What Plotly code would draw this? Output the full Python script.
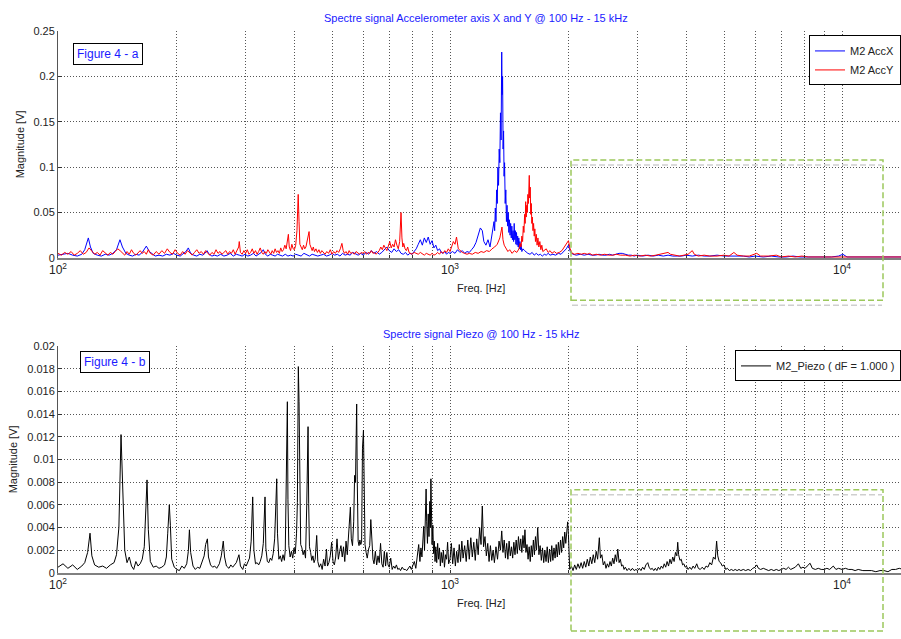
import plotly.graph_objects as go

# ---------------- data ----------------
# Top panel : accelerometer X (blue) — frequency [Hz] / magnitude [mV]
accx_f = [100,103,106,109,112,115,117,119.5,121,123,126,129,132,135,138,141,143.9,146,149,152,155,158,161,164,168,171,174,177,181,185,189,193,197,201,205,209,212,215,218,222,226,230,234,237,240,243,247,251,255,260,265,270,275,280,285,290,295,300,305,310,315,320,325,330,334,338,343,348,353,358,363,368,374,380,386,392,398,404,410,417,424,431,438,445,452,460,468,476,484,492,500,508,516,524,532,540,548,556,565,574,583,592,601,610,620,630,640,650,660,670,680,690,700,710,720,730,740,750,760,770,780,790,800,810,820,830,840,850,860,870,880,890,900,910,920,930,940,950,960,970,980,990,1000,1015,1030,1045,1060,1075,1090,1105,1120,1135,1150,1165,1180,1195,1209,1220,1235,1250,1265,1280,
          1295,1300,1305,1310,1315,1320,1325,1330,1335,1340,1345,1350,1355,1358,1362,1366,1370,1374,1378,1383,1388,1393,1398,1403,1408,1413,1418,1423,1428,1433,1438,1443,1448,1453,1458,1463,1468,1473,1478,1483,1488,1493,1498,1503,1508,1513,1518,1525,1535,
          1550,1565,1580,1600,1620,1640,1660,1680,1700,1720,1740,1760,1780,1800,1830,1860,1890,1920,1950,1980,2005,2030,2060,2100,2150,2200,2250,2300,2350,2400,2450,2500,2550,2600,2650,2700,2750,2800,2850,2900,2950,3000,3100,3200,3300,3400,3500,3600,3700,3800,3900,4000,4150,4300,4450,4600,4800,5000,5200,5400,5600,5800,6000,6300,6600,6900,7200,7500,7800,8100,8400,8700,9000,9400,9800,10050,10300,10700,11200,11700,12200,12800,13400,14000,15000]
accx_mv = [3,4,5,3,2,4,9,22,12,5,3,2,4,3,5,9,20,12,5,3,2,4,3,6,13,7,4,2,3,2,4,3,5,3,2,5,7,11,5,3,2,4,3,5,8,4,2,3,2,4,2,3,5,2,4,3,2,4,2,3,5,2,4,6,9,4,2,4,3,2,4,3,2,4,2,3,2,4,3,2,5,3,2,4,3,2,3,4,2,3,5,3,4,2,5,3,4,3,6,4,3,5,3,6,4,8,5,7,4,6,9,12,8,6,10,7,9,5,4,6,3,5,4,7,10,15,20,14,22,17,23,15,19,11,14,8,10,6,5,7,4,6,5,7,5,9,6,8,5,7,6,9,12,17,24,33,30,18,14,20,12,25,
           40,30,55,40,75,60,100,80,120,105,160,130,227,180,200,120,140,90,105,60,75,40,58,35,50,28,42,25,38,22,35,20,30,18,38,20,30,15,28,14,24,12,22,10,18,9,15,7,10,
           8,6,5,4,6,3,5,3,4,2,4,3,5,3,4,3,5,4,7,10,14,6,4,3,4,3,4,3,3,4,3,3,4,3,4,5,5,4,3,3,2,3,2,3,2,3,2,3,2,2,2,3,2,3,2,2,3,2,2,2,2,1,2,1,2,1,1,2,1,1,1,1,1,1,2,4,1,1,1,1,1,1,1,1,1]

# Top panel : accelerometer Y (red)
accy_f = [100,102,104,106,108,110,112,114,116,118,120,122,124,126,128,130,132,134,136,138,140,142,144,146,148,150,152,154,156,158,160,162,164,166,168,170,172,175,178,181,184,187,190,193,196,199,202,205,208,211,214,217,220,223,226,229,232,235,238,241,244,247,250,253,256,259,262,265,268,271,274,277,280,283,286,289,290,292,295,298,301,304,307,310,313,316,319,322,325,328,331,334,337,340,343,346,349,352,355,358,361,364,367,370,373,376,379,382,385,387,389,392,395,398,401,404,407,410,412,414,417,420,423,426,429,432,435,437,439,442,445,448,451,455,459,463,467,471,475,480,485,490,495,500,505,510,515,520,525,530,534,538,543,548,553,558,564,570,576,582,588,594,600,606,612,618,624,630,636,642,648,654,660,666,672,678,684,690,696,702,708,714,720,726,732,738,744,750,754,758,762,768,774,780,786,792,800,810,820,830,840,850,860,870,880,890,900,910,920,930,940,950,960,970,980,990,1000,1010,1020,1030,1039,1050,1060,1075,1090,1105,1120,1140,1160,1180,1200,1220,1240,1260,1280,1300,1320,1340,1357,1365,1375,1390,1405,1420,1440,1460,1480,
          1500,1510,1518,1525,1532,1538,1544,1550,1555,1560,1565,1570,1575,1580,1585,1590,1593,1597,1602,1607,1612,1617,1622,1628,1634,1640,1646,1652,1660,1668,1676,1685,1695,1705,1715,1725,1740,
          1760,1780,1800,1820,1845,1870,1900,1930,1960,1985,2005,2025,2050,2080,2120,2160,2200,2240,2270,2310,2360,2420,2480,2540,2600,2660,2720,2800,2880,2960,3050,3150,3250,3350,3450,3550,3600,3650,3750,3850,3950,4050,4150,4200,4300,4450,4600,4800,5000,5150,5300,5400,5600,5800,6060,6200,6500,6800,7000,7300,7600,7900,8200,8600,9000,9500,10000,10500,11000,12000,13000,14000,15000]
accy_mv = [5,3,6,4,7,3,5,8,4,6,11,7,4,6,3,8,5,3,6,4,7,10,8,5,3,7,4,9,5,3,6,8,5,7,4,9,5,3,7,4,8,5,10,6,4,9,5,3,7,4,8,5,3,6,9,5,7,4,8,5,3,6,4,9,5,7,4,6,8,4,7,5,9,4,8,12,18,6,4,8,5,9,4,6,10,5,8,4,7,11,6,4,7,5,9,6,4,8,5,10,6,8,5,11,7,9,14,10,20,26,12,8,15,10,9,14,30,70,40,15,12,9,14,10,12,18,22,29,15,10,8,12,7,10,6,9,5,8,6,4,7,5,9,4,7,5,8,6,10,16,8,5,7,4,8,5,6,4,7,5,4,6,5,7,4,6,5,8,5,6,4,6,8,12,9,14,10,8,13,18,11,15,12,20,14,10,18,50,22,12,16,10,8,12,6,5,4,6,5,4,6,4,3,5,4,3,5,3,4,6,4,7,5,8,6,10,7,12,18,15,23,10,8,6,5,4,5,4,6,5,7,6,8,7,10,12,15,22,34,20,14,10,7,9,5,8,6,
           10,16,12,24,18,35,28,48,38,62,45,58,50,70,60,82,91,66,78,48,60,38,45,30,38,24,32,18,26,14,22,12,18,9,14,7,8,
           10,6,8,5,7,5,6,8,12,15,19,10,5,4,5,4,5,4,5,3,4,3,4,3,3,4,3,3,2,3,2,3,2,3,4,5,6,4,3,2,3,4,8,4,2,3,2,2,3,2,6,3,2,2,5,2,2,3,1,2,1,2,1,1,1,1,1,1,1,1,1,1,1]

# Bottom panel : piezo (black)
piezo_f = [100,103,106,109,112,115,117,119,120.7,122,124,127,130,133,136,139,141,143,144.8,146,148,150,152,154,156,158,160,162,164,166,168.7,170,172,175,178,181,184,187,189,190.5,192.3,193.5,195,198,201,204,207,210,213,215,216.4,218,221,224,227,230,233,236,238,240.5,242,245,248,251,254,258,261,264,266,269,273,276,279,282,285,289.5,292,296,299,302,305,308,311,313.8,316,319,322,325,328,331,334,337.4,339,342,345,348,351,354,357,359,361.4,363,366,369,372,375,378,380,382,384.7,386,388,391,394,397,400,403,406,408,410.3,412,414,416,419,422,425,428,431,434.4,436,438,441,444,447,450,453,457,460,464,468,472,476,480,484,487,491,495,499,503,507,511,515,519,523,527,531,535,539,543,547,551,554,557,560,564,568,571,574,576,578,580,583,586,589,592,595,598,601.5,604,607,611,615,620,624,628,632,636,640,645,650,655,660,665,670,675,680,685,690,695,700,706,712,718,724,730,736,742,748,755,762,769,776,783,790,797,804,811,818,825,832,838,843,848,853,857,861,865,869,872,876,880,884,888,891,894,897,900,904,908,912,916,920,925,930,935,940,945,950,956,962,968,974,980,986,992,1000,1008,1016,1024,1032,1040,1048,1056,1064,1072,1080,1090,1100,1110,1120,1130,1140,1150,1160,1170,1180,1190,1200,1209,1218,1228,1238,1248,1258,1268,1278,1288,1298,1310,1322,1334,1345,1355,1365,1375,1385,1395,1405,1415,1425,1435,1445,1455,1465,1475,1485,1495,1505,1515,1525,1535,1545,1553,1562,1572,1582,1592,1602,1612,1622,1632,1642,1652,1662,1674,1686,1698,1710,1722,1734,1746,1758,1770,1782,1794,1806,1818,1830,1842,1854,1866,1878,1890,1902,1914,1926,1938,1950,1962,1974,1986,1996,2005,2012,2020,2040,2060,2080,2100,2120,2140,2160,2180,2200,2220,2240,2260,2280,2300,2320,2340,2360,2380,2404,2420,2440,2460,2480,2500,2520,2540,2560,2580,2600,2620,2640,2660,2679,2700,2720,2740,2760,2780,2800,2830,2860,2890,2920,2950,2980,3010,3040,3070,3100,3130,3160,3195,3220,3250,3280,3310,3340,3370,3400,3430,3460,3490,3520,3550,3580,3610,3640,3670,3700,3730,3760,3790,3810,3830,3860,3890,3920,3950,3980,4010,4050,4090,4130,4170,4210,4260,4300,4350,4400,4450,4500,4550,4600,4650,4700,4750,4788,4820,4860,4900,4950,5000,5050,5100,5160,5220,5280,5340,5400,5460,5520,5600,5680,5760,5840,5920,6000,6060,6120,6200,6300,6400,6500,6600,6700,6800,6900,7000,7100,7200,7300,7400,7500,7600,7740,7850,7950,8050,8150,8290,8400,8550,8700,8850,9000,9150,9300,9500,9650,9800,10000,10200,10400,10600,10800,11000,11300,11600,11900,12200,12500,12800,13100,13400,13700,14000,14300,14600,15000]
piezo_mv = [0.5,0.8,0.4,0.7,0.3,0.6,0.9,1.8,3.5,1.5,0.7,0.5,0.6,0.4,0.7,0.9,1.6,4.0,12.2,7.7,2.0,0.9,1.4,0.6,0.3,1.0,0.6,0.8,1.2,2.3,8.2,3.8,1.0,0.5,0.6,0.4,0.5,0.7,1.4,3.5,6.0,4.2,1.2,0.5,0.3,0.2,0.6,0.4,0.8,1.9,3.8,1.8,0.6,0.3,0.5,0.4,0.9,1.5,2.5,3.0,1.4,0.7,0.5,0.6,0.4,0.8,1.5,2.8,1.4,0.6,0.4,0.7,0.5,0.7,0.9,1.6,0.6,0.3,0.8,0.6,0.9,1.3,2.8,6.7,2.0,0.8,0.9,0.7,1.0,1.5,2.6,6.7,2.2,1.0,0.9,1.3,1.1,1.7,3.0,5.0,8.3,3.5,1.2,1.5,1.0,1.6,1.1,2.0,10.2,15.1,6.5,2.4,1.4,1.9,1.3,2.2,1.7,3.5,6.2,18.2,15.1,6.4,2.5,2.2,1.6,2.0,1.3,5.9,12.9,6.1,2.3,1.8,1.1,1.5,0.9,1.2,3.3,1.0,0.5,0.8,0.3,1.2,0.6,2.1,0.6,0.9,1.5,2.7,1.0,0.7,1.4,3.0,1.2,1.9,2.4,1.4,2.3,1.0,2.8,1.6,3.6,4.2,5.8,3.0,2.4,4.5,8.6,8.0,13.0,14.9,8.2,2.8,2.4,2.9,2.5,2.7,11.0,12.6,8.0,2.5,1.8,1.3,2.1,2.4,4.7,2.3,1.2,0.8,1.9,0.7,1.5,0.9,2.6,0.8,0.5,1.9,0.6,1.8,0.7,0.5,1.3,0.3,0.6,0.4,0.7,0.3,0.4,0.2,0.5,0.3,0.3,0.2,0.4,0.6,0.3,0.7,1.0,0.4,1.3,2.5,1.0,2.2,1.4,2.8,4.1,2.0,3.9,7.4,4.5,2.6,5.2,3.2,6.3,4.0,8.3,5.0,2.5,4.2,1.7,2.8,1.0,2.3,0.9,2.6,1.2,2.2,0.6,1.8,0.9,2.0,0.5,1.6,1.2,2.7,0.8,1.2,2.6,0.8,2.2,0.6,1.9,0.9,2.5,1.0,2.8,1.3,2.4,1.0,2.9,1.2,3.1,1.4,2.7,1.1,3.0,1.6,4.0,2.5,5.9,2.3,3.2,1.5,2.6,1.0,2.4,1.1,2.0,0.9,2.3,1.2,2.8,2.0,3.7,1.8,2.9,1.3,2.6,1.2,2.8,1.5,2.3,1.3,2.7,1.6,2.9,1.7,3.2,2.0,3.0,1.8,3.3,2.2,3.8,1.8,2.5,1.2,2.3,1.0,2.4,1.4,2.9,1.6,3.2,2.0,4.0,1.6,2.4,1.1,2.2,0.9,2.0,1.0,2.3,0.9,2.1,1.0,2.4,1.1,2.2,1.3,2.5,1.4,2.7,1.6,2.9,1.8,3.2,2.2,3.6,2.6,4.2,4.5,3.4,1.0,0.3,0.6,0.2,0.7,0.3,0.8,0.4,0.9,0.4,1.0,0.5,1.2,0.6,1.4,0.8,1.6,0.9,1.9,1.2,3.1,1.3,1.6,0.7,1.0,0.4,0.8,0.5,1.0,0.6,1.3,0.8,1.6,1.0,2.1,0.9,1.2,0.6,0.7,0.3,0.5,0.2,0.4,0.2,0.4,0.2,0.3,0.2,0.4,0.2,0.5,0.3,0.7,0.9,0.5,0.3,0.4,0.2,0.4,0.2,0.5,0.3,0.6,0.4,0.8,0.5,1.0,0.6,1.2,0.8,1.4,1.0,1.8,1.5,2.7,1.6,1.1,1.2,0.7,0.8,0.5,0.6,0.3,0.5,0.3,0.6,0.4,0.8,0.4,0.3,0.5,0.3,0.6,0.5,0.9,0.7,1.4,1.2,2.8,1.5,1.0,0.9,0.6,0.7,0.3,0.4,0.2,0.3,0.2,0.3,0.2,0.3,0.2,0.3,0.2,0.3,0.2,0.4,0.5,0.7,0.4,0.3,0.4,0.3,0.2,0.3,0.2,0.3,0.2,0.3,0.4,0.3,0.5,0.3,0.4,0.5,0.8,0.4,0.5,0.4,0.6,0.85,0.4,0.3,0.4,0.3,0.3,0.4,0.3,0.6,0.3,0.4,0.3,0.4,0.3,0.3,0.2,0.3,0.2,0.2,0.2,0.1,0.2,0.2,0.1,0.3,0.3,0.4,0.3,0.3,0.3]

acc_yticks = [0, 0.05, 0.1, 0.15, 0.2, 0.25]
acc_ytext = ["0", "0.05", "0.1", "0.15", "0.2", "0.25"]
pz_yticks = [0, 0.002, 0.004, 0.006, 0.008, 0.01, 0.012, 0.014, 0.016, 0.018, 0.02]
pz_ytext = ["0", "0.002", "0.004", "0.006", "0.008", "0.01", "0.012", "0.014", "0.016", "0.018", "0.02"]
x_gridvals = [100,200,300,400,500,600,700,800,900,1000,2000,3000,4000,5000,6000,7000,8000,9000,10000]
x_ticktext = ["10<sup>2</sup>","","","","","","","","","10<sup>3</sup>","","","","","","","","","10<sup>4</sup>"]

title_top = "Spectre signal Accelerometer axis X and Y @ 100 Hz - 15 kHz"
title_bot = "Spectre signal Piezo @ 100 Hz - 15 kHz"

# ---------------- figure ----------------
W, H = 901, 639
L = 58
def px(x):  # pixel -> paper x
    return (x - L) / (W - L)
def py(y):  # pixel -> paper y
    return 1 - y / H

FONT = "Liberation Sans, Arial, sans-serif"
BLUE_TXT = "#1a1aff"
TXT = "#222222"

fig = go.Figure()
fig.add_trace(go.Scatter(x=accx_f, y=[v / 1000 for v in accx_mv], mode="lines",
                         line=dict(color="#0000ff", width=1), name="M2 AccX",
                         xaxis="x", yaxis="y", legend="legend"))
fig.add_trace(go.Scatter(x=accy_f, y=[v / 1000 for v in accy_mv], mode="lines",
                         line=dict(color="#ff0000", width=1), name="M2 AccY",
                         xaxis="x", yaxis="y", legend="legend"))
fig.add_trace(go.Scatter(x=piezo_f, y=[v / 1000 for v in piezo_mv], mode="lines",
                         line=dict(color="#000000", width=1), name="M2_Piezo ( dF = 1.000 )",
                         xaxis="x2", yaxis="y2", legend="legend2"))

GRID = dict(showgrid=True, gridcolor="#555555", griddash="1px,2px", gridwidth=1)
xcommon = dict(type="log", range=[2, 2 + (W - L) / 392], tickvals=x_gridvals, ticktext=x_ticktext,
               showline=True, linecolor="#808080", linewidth=2, ticks="inside", ticklen=3,
               tickcolor="#333", tickfont=dict(family=FONT, size=12, color=TXT),
               zeroline=False, fixedrange=True, **GRID)
ycommon = dict(showline=True, linecolor="#555555", linewidth=1, ticks="inside", ticklen=4,
               tickcolor="#333", tickfont=dict(family=FONT, size=11, color=TXT),
               zeroline=False, fixedrange=True, **GRID)

fig.update_layout(
    width=W, height=H, margin=dict(l=L, r=0, t=0, b=0),
    paper_bgcolor="white", plot_bgcolor="white",
    font=dict(family=FONT, size=11, color=TXT),
    xaxis=dict(domain=[0, 1], anchor="y", **xcommon),
    yaxis=dict(domain=[py(256.7), py(25.7)], anchor="x", range=[0, 0.25],
               tickvals=acc_yticks, ticktext=acc_ytext, **ycommon),
    xaxis2=dict(domain=[0, 1], anchor="y2", **xcommon),
    yaxis2=dict(domain=[py(577.7), py(346.7)], anchor="x2", range=[0, 0.02],
                tickvals=pz_yticks, ticktext=pz_ytext, **ycommon),
    legend=dict(x=1, xanchor="right", y=py(30), yanchor="top", bgcolor="white",
                bordercolor="black", borderwidth=1, font=dict(family=FONT, size=11, color=TXT),
                tracegroupgap=0, itemwidth=30),
    legend2=dict(x=1, xanchor="right", y=py(351), yanchor="top", bgcolor="white",
                 bordercolor="black", borderwidth=1, font=dict(family=FONT, size=11, color=TXT),
                 itemwidth=30),
)

def note(text, x, y, color=TXT, size=11, **kw):
    return dict(text=text, x=px(x), y=py(y), xref="paper", yref="paper", showarrow=False,
                xanchor="center", yanchor="middle", font=dict(family=FONT, size=size, color=color), **kw)

ann = [
    note(title_top, 476, 12, BLUE_TXT),
    note(title_bot, 481, 334, BLUE_TXT),
    note("Freq. [Hz]", 481, 287),
    note("Freq. [Hz]", 481, 608),
    note("Magnitude [V]", 20, 141, textangle=-90),
    note("Magnitude [V]", 13, 462, textangle=-90),
    note("Figure 4 - a", 108, 49, BLUE_TXT, 12, bgcolor="white",
         bordercolor="black", borderwidth=1, borderpad=3),
    note("Figure 4 - b", 115, 362.5, BLUE_TXT, 12, bgcolor="white",
         bordercolor="black", borderwidth=1, borderpad=3),
]
fig.update_layout(annotations=ann)

GREEN = "#9cc85c"
GRAY = "#cfcfcf"
DASH = "6px,3px"
shapes = [
    dict(type="line", xref="paper", yref="paper", x0=px(572), x1=px(882), y0=py(162), y1=py(162),
         line=dict(color=GRAY, width=1.5, dash=DASH)),
    dict(type="line", xref="paper", yref="paper", x0=px(572), x1=px(882), y0=py(305), y1=py(305),
         line=dict(color=GRAY, width=1.5, dash=DASH)),
    dict(type="rect", xref="paper", yref="paper", x0=px(571), x1=px(883), y0=py(300), y1=py(157),
         line=dict(color=GREEN, width=1.5, dash=DASH)),
    dict(type="line", xref="paper", yref="paper", x0=px(572), x1=px(882), y0=py(498), y1=py(498),
         line=dict(color=GRAY, width=1.5, dash=DASH)),
    dict(type="rect", xref="paper", yref="paper", x0=px(571), x1=px(883), y0=py(637), y1=py(493),
         line=dict(color=GREEN, width=1.5, dash=DASH)),
]
fig.update_layout(shapes=shapes)

fig.write_html("out.html")
